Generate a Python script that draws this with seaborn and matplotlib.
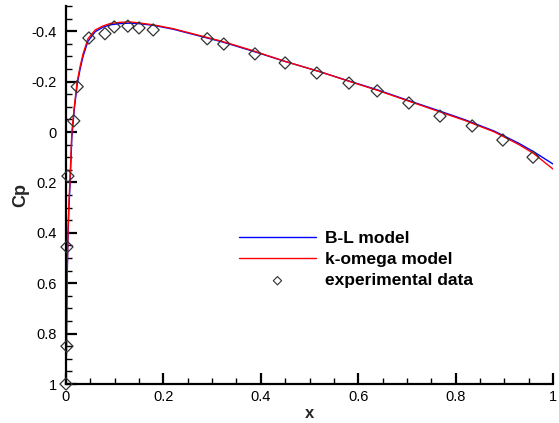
import matplotlib
matplotlib.use("Agg")
import matplotlib.pyplot as plt
import seaborn as sns
import numpy as np
import pandas as pd
from matplotlib.ticker import MultipleLocator, FuncFormatter

# ---- data ----
x_curve = [0.0, 0.001, 0.002, 0.004, 0.006, 0.008, 0.012, 0.017, 0.023, 0.029, 0.035,
           0.045, 0.06, 0.075, 0.09, 0.11, 0.13, 0.15, 0.18, 0.22, 0.27, 0.32, 0.38,
           0.45, 0.52, 0.58, 0.64, 0.70, 0.76, 0.82, 0.88, 0.93, 0.96, 1.0]
cp_kw = [1.0, 0.85, 0.6, 0.4, 0.28, 0.2, 0.0, -0.1, -0.2, -0.26, -0.31,
         -0.37, -0.405, -0.42, -0.43, -0.435, -0.437, -0.433, -0.425, -0.41, -0.385,
         -0.36, -0.325, -0.28, -0.24, -0.202, -0.165, -0.125, -0.085, -0.045, 0.0,
         0.05, 0.085, 0.147]
cp_bl = [1.0, 0.85, 0.62, 0.42, 0.3, 0.22, 0.02, -0.09, -0.19, -0.25, -0.3,
         -0.36, -0.398, -0.415, -0.425, -0.43, -0.432, -0.43, -0.423, -0.408, -0.383,
         -0.358, -0.323, -0.28, -0.24, -0.203, -0.167, -0.127, -0.088, -0.048, -0.003,
         0.045, 0.078, 0.127]
x_exp = [0.0, 0.002, 0.002, 0.004, 0.016, 0.023, 0.047, 0.08, 0.099, 0.127, 0.15,
         0.179, 0.29, 0.324, 0.388, 0.45, 0.515, 0.581, 0.639, 0.704, 0.768, 0.834,
         0.897, 0.959]
cp_exp = [1.0, 0.85, 0.456, 0.175, -0.044, -0.18, -0.373, -0.39, -0.417, -0.42, -0.413,
          -0.405, -0.37, -0.349, -0.31, -0.274, -0.234, -0.194, -0.163, -0.115, -0.063,
          -0.024, 0.032, 0.1]
x_ticks = [0, 0.2, 0.4, 0.6, 0.8, 1.0]
y_ticks = [-0.4, -0.2, 0, 0.2, 0.4, 0.6, 0.8, 1.0]

sns.set_theme(style="white")
plt.rcParams['font.family'] = ['Liberation Sans', 'DejaVu Sans']
plt.rcParams['axes.unicode_minus'] = False

fig = plt.figure(figsize=(5.59, 4.23), dpi=100)
ax = fig.add_axes([66/559, 1-384/423, (553-66)/559, (384-6)/423])

df_bl = pd.DataFrame({"x": x_curve, "cp": cp_bl})
df_kw = pd.DataFrame({"x": x_curve, "cp": cp_kw})
df_exp = pd.DataFrame({"x": x_exp, "cp": cp_exp})

sns.lineplot(data=df_bl, x="x", y="cp", sort=False, estimator=None, color="#0000ff",
             lw=1.0, label="B-L model", ax=ax)
sns.lineplot(data=df_kw, x="x", y="cp", sort=False, estimator=None, color="#ff0000",
             lw=1.0, label="k-omega model", ax=ax)
sns.scatterplot(data=df_exp, x="x", y="cp", marker="D", s=38, facecolor="none",
                edgecolor="#333333", linewidth=0.9, label="experimental data", ax=ax,
                zorder=5, clip_on=False)

ax.set_xlim(0, 1)
ax.set_ylim(1, -0.5)
ax.set_xticks(x_ticks)
ax.set_yticks(y_ticks)
ax.xaxis.set_minor_locator(MultipleLocator(0.05))
ax.yaxis.set_minor_locator(MultipleLocator(0.05))
fmt = FuncFormatter(lambda v, p: "%g" % round(v, 3))
ax.xaxis.set_major_formatter(fmt)
ax.yaxis.set_major_formatter(fmt)

for s in ["top", "right"]:
    ax.spines[s].set_visible(False)
for s in ["left", "bottom"]:
    ax.spines[s].set_color("black")
    ax.spines[s].set_linewidth(1.6)

ax.tick_params(which="major", direction="in", length=8, width=1.6, colors="black",
               labelsize=10.5, labelcolor="black")
ax.tick_params(which="minor", direction="in", length=4, width=1.0, colors="black")
ax.tick_params(axis="y", which="both", left=True, pad=6.5)
ax.tick_params(axis="x", which="both", bottom=True, pad=4.5)

ax.set_xlabel("x", fontsize=12, fontweight="bold", labelpad=1)
ax.set_ylabel("Cp", fontsize=13, fontweight="bold", labelpad=2)

leg = ax.legend(loc="upper left", bbox_to_anchor=((239-66)/487, 1-(231-6)/378), frameon=False,
                fontsize=12.5, handlelength=4.43, handletextpad=0.52, labelspacing=0.34,
                borderpad=0, borderaxespad=0)
for t in leg.get_texts():
    t.set_fontweight("bold")
    t.set_color("black")
leg.legend_handles[2].set_sizes([18])
leg.legend_handles[2].set_linewidth(0.8)

fig.savefig("out.png", dpi=100)
